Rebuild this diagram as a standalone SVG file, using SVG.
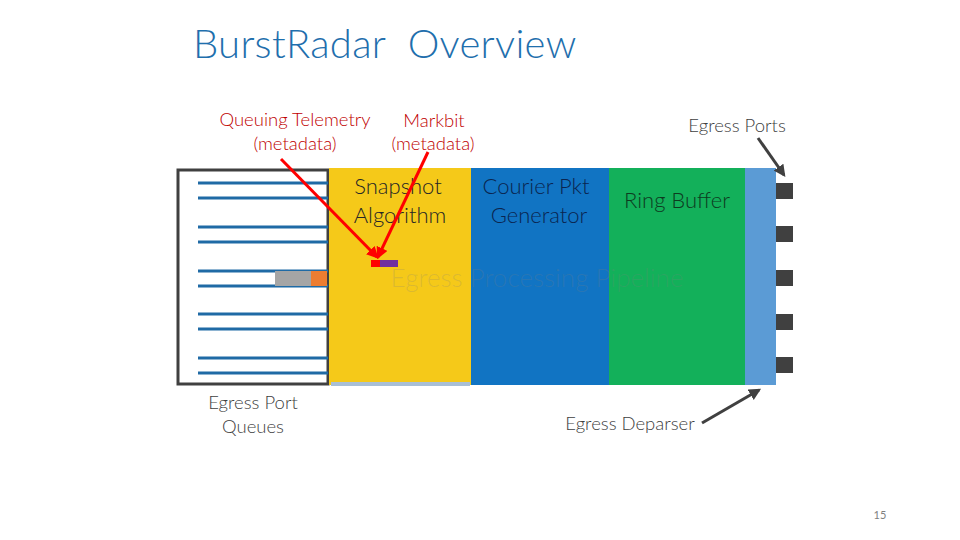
<svg xmlns="http://www.w3.org/2000/svg" width="960" height="540" viewBox="0 0 960 540">
<defs>
<style>
.t{font-family:Lato,"Liberation Sans",sans-serif;font-weight:300;text-anchor:middle}
.lbl{font-size:18.5px;fill:#404040}
.red{font-size:18.5px;fill:#c00000}
.blk{font-size:22px;fill:#262626}
.q{stroke:#1f6aa5;stroke-width:3}
.port{fill:#404040}
</style>
<marker id="ar" viewBox="0 0 10 10" refX="8" refY="5" markerWidth="4" markerHeight="4" orient="auto"><path d="M0,0 L10,5 L0,10 z" fill="#ff0000"/></marker>
<marker id="ak" viewBox="0 0 10 10" refX="8" refY="5" markerWidth="4" markerHeight="4" orient="auto"><path d="M0,0 L10,5 L0,10 z" fill="#404040"/></marker>
</defs>
<rect width="960" height="540" fill="#fff"/>
<text x="193" y="58" font-family="Lato,'Liberation Sans',sans-serif" font-weight="300" font-size="40" letter-spacing="0.3" fill="#1f6fad" xml:space="preserve">BurstRadar  Overview</text>

<g id="queues">
<rect x="178" y="170" width="150" height="214" fill="#fff" stroke="#404040" stroke-width="3"/>
<line class="q" x1="198" y1="183" x2="328" y2="183"/>
<line class="q" x1="198" y1="198" x2="328" y2="198"/>
<line class="q" x1="198" y1="227" x2="328" y2="227"/>
<line class="q" x1="198" y1="242" x2="328" y2="242"/>
<line class="q" x1="198" y1="271" x2="328" y2="271"/>
<line class="q" x1="198" y1="286" x2="328" y2="286"/>
<line class="q" x1="198" y1="314" x2="328" y2="314"/>
<line class="q" x1="198" y1="329" x2="328" y2="329"/>
<line class="q" x1="198" y1="358" x2="328" y2="358"/>
<line class="q" x1="198" y1="373" x2="328" y2="373"/>
<rect x="275" y="271" width="36" height="15" fill="#a5a5a5"/>
<rect x="311" y="271" width="16" height="15" fill="#ed7d31"/>
<text class="t lbl" x="253" y="409">Egress Port</text>
<text class="t lbl" x="253" y="433">Queues</text>
</g>

<g id="snapshot">
<rect x="329" y="168" width="142" height="217" fill="#f5c919"/>
<rect x="331" y="382" width="139" height="4" fill="#a9bfd6"/>
<text class="t blk" x="398" y="194">Snapshot</text>
<text class="t blk" x="400" y="223">Algorithm</text>
<rect x="371" y="260" width="9" height="7" fill="#ff0000"/>
<rect x="380" y="260" width="18" height="7" fill="#7030a0"/>
</g>

<g id="courier">
<rect x="471" y="168" width="138" height="217" fill="#1174c3"/>
<text class="t blk" x="536" y="194" style="fill:#0a2550">Courier Pkt</text>
<text class="t blk" x="539" y="223" style="fill:#0a2550">Generator</text>
</g>

<g id="ringbuffer">
<rect x="609" y="168" width="136" height="217" fill="#13b05a"/>
<text class="t blk" x="677" y="208" style="fill:#0d3b1f">Ring Buffer</text>
</g>

<g id="deparser">
<rect x="745" y="168" width="31" height="217" fill="#5b9bd5"/>
</g>

<g id="ports">
<rect class="port" x="776" y="183" width="17" height="16"/>
<rect class="port" x="776" y="226" width="17" height="16"/>
<rect class="port" x="776" y="270" width="17" height="16"/>
<rect class="port" x="776" y="314" width="17" height="16"/>
<rect class="port" x="776" y="357" width="17" height="16"/>
</g>

<text class="t" x="537" y="287" font-size="26" fill="#7f7f7f" fill-opacity="0.22">Egress Processing Pipeline</text>

<g id="labels">
<text class="t red" x="295" y="126">Queuing Telemetry</text>
<text class="t red" x="295" y="150">(metadata)</text>
<text class="t red" x="434" y="127">Markbit</text>
<text class="t red" x="433" y="150">(metadata)</text>
<text class="t lbl" x="737" y="132">Egress Ports</text>
<text class="t lbl" x="630" y="430">Egress Deparser</text>
<text x="880" y="519" font-family="Lato,'Liberation Sans',sans-serif" font-size="11" fill="#7f7f7f" text-anchor="middle">15</text>
</g>

<g id="connectors">
<line x1="281" y1="159" x2="377" y2="257" stroke="#ff0000" stroke-width="3" marker-end="url(#ar)"/>
<line x1="428" y1="152" x2="378" y2="257" stroke="#ff0000" stroke-width="3" marker-end="url(#ar)"/>
<line x1="758" y1="138" x2="784" y2="175" stroke="#404040" stroke-width="3" marker-end="url(#ak)"/>
<line x1="702" y1="423" x2="759" y2="390" stroke="#404040" stroke-width="3" marker-end="url(#ak)"/>
</g>
</svg>
